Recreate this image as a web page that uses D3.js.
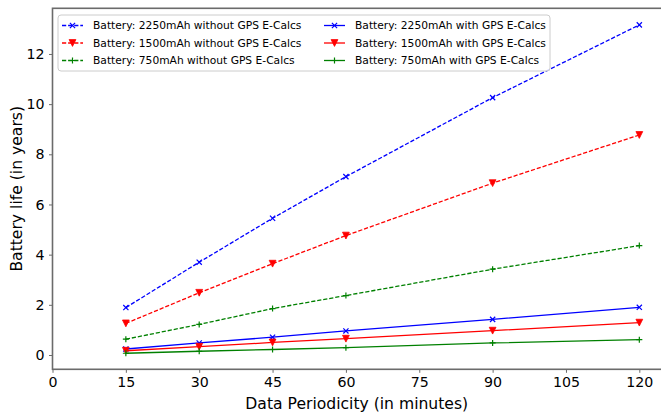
<!DOCTYPE html>
<html>
<head>
<meta charset="utf-8">
<script src="https://cdn.jsdelivr.net/npm/d3@7"></script>
<style>
  body { margin: 0; background: #fff; }
  svg { display: block; font-family: "DejaVu Sans", sans-serif; }
</style>
</head>
<body>
<script>
let periods = [15, 30, 45, 60, 90, 120]
let xTicks = [0, 15, 30, 45, 60, 75, 90, 105, 120]
let yTicks = [0, 2, 4, 6, 8, 10, 12]

let b2250NoGps = [1.89, 3.70, 5.45, 7.11, 10.26, 13.16]
let b1500NoGps = [1.26, 2.48, 3.64, 4.76, 6.85, 8.77]
let b750NoGps = [0.63, 1.22, 1.85, 2.37, 3.42, 4.36]
let b2250Gps = [0.24, 0.48, 0.71, 0.96, 1.42, 1.90]
let b1500Gps = [0.17, 0.33, 0.50, 0.65, 0.97, 1.29]
let b750Gps = [0.07, 0.15, 0.22, 0.29, 0.48, 0.61]

let seriesNames = [
  'Battery: 2250mAh without GPS E-Calcs',
  'Battery: 1500mAh without GPS E-Calcs',
  'Battery: 750mAh without GPS E-Calcs',
  'Battery: 2250mAh with GPS E-Calcs',
  'Battery: 1500mAh with GPS E-Calcs',
  'Battery: 750mAh with GPS E-Calcs'
]

let series = [
  { name: seriesNames[0], values: b2250NoGps, color: '#0000ff', marker: 'x', dashed: true },
  { name: seriesNames[1], values: b1500NoGps, color: '#ff0000', marker: 'v', dashed: true },
  { name: seriesNames[2], values: b750NoGps, color: '#008000', marker: '+', dashed: true },
  { name: seriesNames[3], values: b2250Gps, color: '#0000ff', marker: 'x', dashed: false },
  { name: seriesNames[4], values: b1500Gps, color: '#ff0000', marker: 'v', dashed: false },
  { name: seriesNames[5], values: b750Gps, color: '#008000', marker: '+', dashed: false }
]

let width = 661, height = 416
let plotLeft = 52.5, plotRight = 665, plotTop = 8.3, plotBottom = 369.3
let spineColor = '#6b6b6b'

let svg = d3.select('body').append('svg')
  .attr('width', width)
  .attr('height', height)

let x = d3.scaleLinear().domain([0, 125.25]).range([plotLeft, plotRight])
let y = d3.scaleLinear().domain([-0.57, 13.82]).range([plotBottom, plotTop])

// x axis
let xAxis = svg.append('g')
  .attr('transform', `translate(0,${plotBottom})`)
  .call(d3.axisBottom(x).tickValues(xTicks).tickSize(3.5).tickPadding(4))
xAxis.select('.domain').remove()
xAxis.selectAll('line').attr('stroke', spineColor).attr('stroke-width', 1)
xAxis.selectAll('text').attr('font-size', 14.2).attr('fill', '#000')
  .attr('font-family', 'DejaVu Sans')

// y axis
let yAxis = svg.append('g')
  .attr('transform', `translate(${plotLeft},0)`)
  .call(d3.axisLeft(y).tickValues(yTicks).tickSize(3.5).tickPadding(4.5))
yAxis.select('.domain').remove()
yAxis.selectAll('line').attr('stroke', spineColor).attr('stroke-width', 1)
yAxis.selectAll('text').attr('font-size', 14.2).attr('fill', '#000')
  .attr('font-family', 'DejaVu Sans')

// spines
svg.append('rect')
  .attr('x', plotLeft).attr('y', plotTop)
  .attr('width', plotRight - plotLeft).attr('height', plotBottom - plotTop)
  .attr('fill', 'none')
  .attr('stroke', spineColor)
  .attr('stroke-width', 1.6)

// lines
let line = d3.line()
  .x((d, i) => x(periods[i]))
  .y(d => y(d))

let drawMarker = (g, type, cx, cy, color) => {
  if (type === 'x') {
    let s = 2.6
    g.append('path')
      .attr('d', `M${cx - s},${cy - s}L${cx + s},${cy + s}M${cx - s},${cy + s}L${cx + s},${cy - s}`)
      .attr('stroke', color).attr('stroke-width', 1.2).attr('fill', 'none')
  } else if (type === 'v') {
    let s = 3.4
    g.append('path')
      .attr('d', `M${cx - s},${cy - s}L${cx + s},${cy - s}L${cx},${cy + s}Z`)
      .attr('fill', color).attr('stroke', color).attr('stroke-width', 0.8)
  } else {
    let s = 3
    g.append('path')
      .attr('d', `M${cx - s},${cy}L${cx + s},${cy}M${cx},${cy - s}L${cx},${cy + s}`)
      .attr('stroke', color).attr('stroke-width', 1.2).attr('fill', 'none')
  }
}

series.forEach(s => {
  let g = svg.append('g')
  g.append('path')
    .datum(s.values)
    .attr('d', line)
    .attr('fill', 'none')
    .attr('stroke', s.color)
    .attr('stroke-width', 1.3)
    .attr('stroke-dasharray', s.dashed ? '4.2,1.9' : null)
  s.values.forEach((v, i) => drawMarker(g, s.marker, x(periods[i]), y(v), s.color))
})

// legend
let legend = svg.append('g')
legend.append('rect')
  .attr('x', 58).attr('y', 15)
  .attr('width', 492).attr('height', 56)
  .attr('rx', 3)
  .attr('fill', '#fff').attr('fill-opacity', 0.8)
  .attr('stroke', '#cccccc').attr('stroke-width', 1)

series.forEach((s, i) => {
  let col = Math.floor(i / 3), row = i % 3
  let hx = col === 0 ? 62 : 324
  let ty = 25.5 + row * 17.5
  legend.append('line')
    .attr('x1', hx).attr('x2', hx + 21)
    .attr('y1', ty).attr('y2', ty)
    .attr('stroke', s.color).attr('stroke-width', 1.3)
    .attr('stroke-dasharray', s.dashed ? '4.2,1.9' : null)
  drawMarker(legend, s.marker, hx + 10.5, ty, s.color)
  legend.append('text')
    .attr('x', hx + 31).attr('y', ty)
    .attr('dy', '0.36em')
    .attr('font-size', 10.7)
    .attr('fill', '#000')
    .text(s.name)
})

// axis labels
svg.append('text')
  .attr('x', (plotLeft + 665) / 2 - 2)
  .attr('y', 409)
  .attr('text-anchor', 'middle')
  .attr('font-size', 15.6)
  .text('Data Periodicity (in minutes)')

svg.append('text')
  .attr('transform', `translate(22,${(plotTop + plotBottom) / 2}) rotate(-90)`)
  .attr('text-anchor', 'middle')
  .attr('font-size', 15.6)
  .text('Battery life (in years)')
</script>
</body>
</html>
